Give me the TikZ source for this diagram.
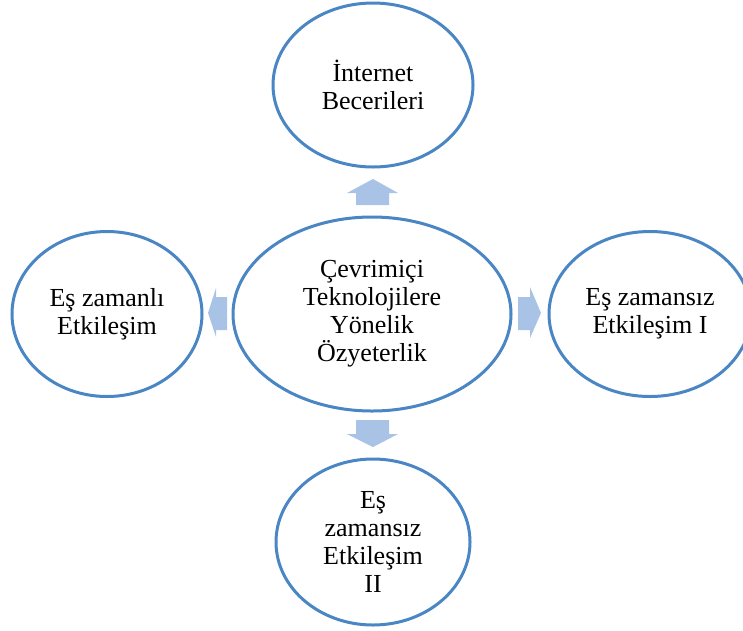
\documentclass[tikz,border=0pt]{standalone}
\usepackage{fontspec}
\setmainfont{Liberation Serif}
\usetikzlibrary{shapes.geometric}
\definecolor{ringblue}{RGB}{74,134,196}
\definecolor{arrowblue}{RGB}{168,195,230}

\begin{document}
\begin{tikzpicture}[x=1pt,y=-1pt,
    bubble/.style={draw=ringblue, line width=3pt, ellipse, align=center, inner sep=0pt,
        font=\fontsize{26}{28}\selectfont},
    blockarrow/.style={fill=arrowblue, draw=none}]
    \useasboundingbox (0,0) rectangle (743,630);
    \node[bubble, minimum width=278pt, minimum height=194pt] (core) at (372,314) {Çevrimiçi\\Teknolojilere\\Yönelik\\Özyeterlik};
    \node[bubble, minimum width=200pt, minimum height=164pt] (internet) at (373,85) {İnternet\\Becerileri};
    \node[bubble, minimum width=190pt, minimum height=165pt] (sync) at (107,314) {Eş zamanlı\\Etkileşim};
    \node[bubble, minimum width=202pt, minimum height=165pt] (asyncone) at (650,314) {Eş zamansız\\Etkileşim I};
    \node[bubble, minimum width=194pt, minimum height=166pt] (asynctwo) at (373,542) {Eş\\zamansız\\Etkileşim\\II};
    \fill[blockarrow] (356,205) -- (356,193) -- (347,193) -- (373,179) -- (398,193) -- (389,193) -- (389,205) -- cycle;
    \fill[blockarrow] (356,420) -- (356,434) -- (347,434) -- (373,447) -- (398,434) -- (389,434) -- (389,420) -- cycle;
    \fill[blockarrow] (227,297) -- (216,297) -- (216,288) -- (208,313) -- (216,337) -- (216,330) -- (227,330) -- cycle;
    \fill[blockarrow] (518,297) -- (530,297) -- (530,287) -- (541,313) -- (530,338) -- (530,330) -- (518,330) -- cycle;
\end{tikzpicture}
\end{document}
